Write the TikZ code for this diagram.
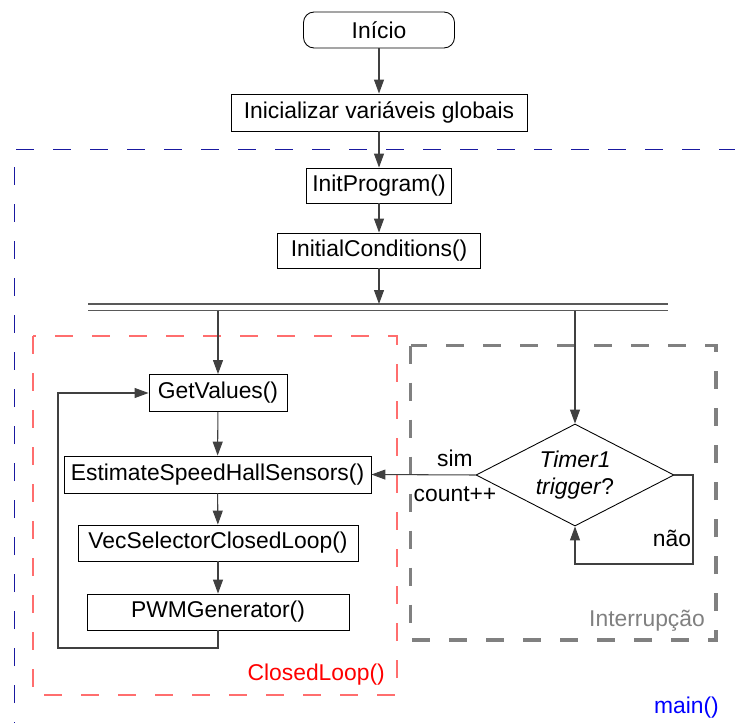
\documentclass[tikz,border=0pt]{standalone}
\usepackage{fontspec}
\setmainfont{Liberation Sans}
\usetikzlibrary{shapes.geometric, arrows.meta, positioning, calc}

\definecolor{mainblue}{RGB}{25,25,160}
\definecolor{looppink}{RGB}{255,110,110}

\tikzset{
    proc/.style={draw=black, line width=0.5pt, inner sep=0pt, minimum height=0.72cm},
    flow/.style={draw=black!75, line width=0.6pt, -{Triangle[length=2.8mm, width=2mm]}},
    link/.style={draw=black!75, line width=0.6pt},
    region/.style={line width=0.6pt, dash pattern=on 0.36cm off 0.38cm}
}

\begin{document}
\begin{tikzpicture}[font=\fontsize{13}{15.6}\selectfont]
    \useasboundingbox (0,0) rectangle (14.7,-14.44);

    % main() region, right and bottom sides run off the page
    \draw[region, line width=0.9pt, draw=mainblue] (0.29,-14.8) -- (0.29,-2.99) -- (15.2,-2.99);
    \node[text=blue, anchor=east] (mainlbl) at (14.50,-14.15) {main()};

    % ClosedLoop() region
    \draw[region, line width=0.7pt, draw=looppink] (0.66,-6.72) rectangle (7.94,-13.90);
    \node[text=red, anchor=east] (looplbl) at (7.82,-13.50) {ClosedLoop()};

    % Interrupt region
    \draw[region, line width=1.9pt, draw=black!50] (8.21,-6.91) rectangle (14.32,-12.80);
    \node[text=black!50, anchor=east] (intlbl) at (14.22,-12.42) {Interrupção};

    % Start and setup
    \node[proc, rounded corners=6pt, minimum width=3.02cm] (inicio) at (7.58,-0.60) {Início};
    \node[proc, minimum width=5.92cm, minimum height=0.74cm] (initvars) at (7.58,-2.25) {Inicializar variáveis globais};
    \node[proc, minimum width=2.90cm, minimum height=0.70cm] (initprog) at (7.58,-3.71) {InitProgram()};
    \node[proc, minimum width=4.06cm, minimum height=0.70cm] (initcond) at (7.58,-5.01) {InitialConditions()};

    % Fork bar
    \coordinate (forktop) at (7.58,-6.08);
    \coordinate (forkL) at (4.36,-6.21);
    \coordinate (forkR) at (11.50,-6.21);
    \draw[link, draw=black!65, line width=0.8pt] (1.76,-6.08) -- (13.36,-6.08);
    \draw[link, draw=black!65, line width=0.8pt] (1.76,-6.21) -- (13.36,-6.21);

    % Closed loop
    \node[proc, minimum width=2.76cm, minimum height=0.74cm] (getval) at (4.36,-7.86) {GetValues()};
    \node[proc, minimum width=6.14cm, minimum height=0.74cm] (estim) at (4.35,-9.49) {EstimateSpeedHallSensors()};
    \node[proc, minimum width=5.60cm] (vecsel) at (4.36,-10.86) {VecSelectorClosedLoop()};
    \node[proc, minimum width=5.24cm] (pwm) at (4.36,-12.24) {PWMGenerator()};
    \coordinate (loopback) at (1.16,-12.96);

    % Timer interrupt
    \node[draw=black, line width=0.5pt, diamond, aspect=2, inner sep=0pt,
          minimum width=3.96cm, minimum height=2.04cm, align=center] (timer) at (11.50,-9.50)
          {\textit{Timer1}\\\textit{trigger}?};
    \coordinate (naocorner) at (13.86,-11.28);

    \node (sim) at (9.10,-9.16) {sim};
    \node (count) at (9.10,-9.88) {count++};
    \node (nao) at (13.44,-10.76) {não};

    % Connectors
    \draw[flow] (inicio) -- (initvars);
    \draw[flow] (initvars) -- (initprog);
    \draw[flow] (initprog) -- (initcond);
    \draw[flow] (initcond) -- (forktop);
    \draw[flow] (forkL) -- (getval);
    \draw[flow] (forkR) -- (timer.north);
    \draw[flow] (getval) -- (estim);
    \draw[flow] (estim) -- (vecsel);
    \draw[flow] (vecsel) -- (pwm);
    \draw[flow] (pwm.south) |- (loopback) |- (getval.west);
    \draw[flow] (timer.west) -- (estim.east);
    \draw[flow] (timer.east) -| (naocorner) -| (timer.south);
\end{tikzpicture}
\end{document}
